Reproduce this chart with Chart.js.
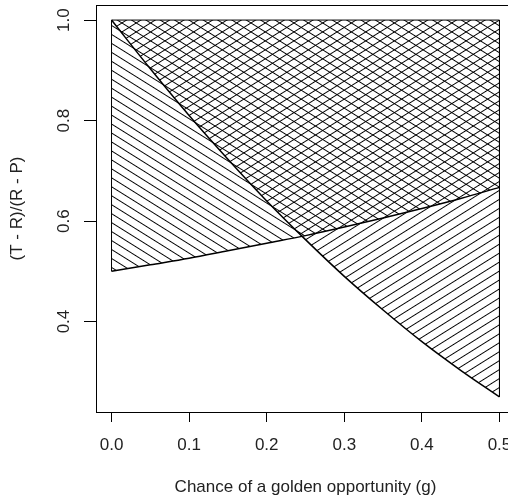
<!DOCTYPE html>
<html>
<head>
<meta charset="utf-8">
<script src="https://cdn.jsdelivr.net/npm/chart.js@4.4.1/dist/chart.umd.min.js"></script>
<style>
  body { margin: 0; overflow: hidden; background: #fff; }
</style>
</head>
<body>
<canvas id="grafico" width="530" height="501"></canvas>
<script>
// chance g no eixo x
const gValues = [0, 0.05, 0.1, 0.15, 0.2, 0.25, 0.3, 0.35, 0.4, 0.45, 0.5];
// limite que sobe (reta de 0.5 ate 0.667)
const lowerBound = [0.5, 0.513, 0.526, 0.541, 0.556, 0.571, 0.588, 0.606, 0.625, 0.645, 0.667];
// limite que desce (curva de 1 ate 0.25)
const upperBound = [1.0, 0.903, 0.81, 0.723, 0.64, 0.563, 0.49, 0.423, 0.36, 0.303, 0.25];
const topValue = 1.0;
const xTicks = [0, 0.1, 0.2, 0.3, 0.4, 0.5];
const yTicks = [0.4, 0.6, 0.8, 1.0];

const fonte = 'Liberation Sans, Arial, sans-serif';
const tamanho = 17;
const corTexto = '#222';

// cria o padrao de linhas diagonais (hachura) girando linhas horizontais
function hachura(angulo, espaco) {
    const tile = document.createElement('canvas');
    tile.width = 16;
    tile.height = 8;
    const c = tile.getContext('2d');
    c.fillStyle = '#000';
    c.fillRect(0, 0, 16, 1);
    const pattern = c.createPattern(tile, 'repeat');
    pattern.setTransform(new DOMMatrix().rotateSelf(angulo).scaleSelf(1, espaco / 8));
    return pattern;
}

const pontos = (ys) => gValues.map((g, i) => ({ x: g, y: ys[i] }));

// contorno dos poligonos: lado esquerdo, topo e lado direito
const contorno = [
    { x: gValues[0], y: lowerBound[0] },
    { x: gValues[0], y: topValue },
    { x: gValues[gValues.length - 1], y: topValue },
    { x: gValues[gValues.length - 1], y: upperBound[upperBound.length - 1] }
];

// desenha a moldura e os rotulos verticais do eixo y
const moldura = {
    id: 'moldura',
    afterDraw(chart) {
        const { ctx, chartArea, scales } = chart;
        ctx.save();
        ctx.strokeStyle = '#000';
        ctx.lineWidth = 1;
        ctx.strokeRect(Math.round(chartArea.left) + 0.5, Math.round(chartArea.top) + 0.5,
            Math.round(chartArea.right - chartArea.left), Math.round(chartArea.bottom - chartArea.top));
        ctx.fillStyle = corTexto;
        ctx.font = tamanho + 'px ' + fonte;
        ctx.textAlign = 'center';
        ctx.textBaseline = 'middle';
        yTicks.forEach(v => {
            const y = scales.y.getPixelForValue(v);
            ctx.save();
            ctx.translate(64, y);
            ctx.rotate(-Math.PI / 2);
            ctx.fillText(v.toFixed(1), 0, 0);
            ctx.restore();
        });
        ctx.restore();
    }
};

const ctx = document.getElementById('grafico').getContext('2d');
new Chart(ctx, {
    type: 'line',
    data: {
        datasets: [
            {
                data: pontos(lowerBound),
                borderColor: '#000',
                borderWidth: 1.5,
                backgroundColor: hachura(32, 7.6),
                fill: { value: topValue },
                pointRadius: 0,
                cubicInterpolationMode: 'monotone'
            },
            {
                data: pontos(upperBound),
                borderColor: '#000',
                borderWidth: 1.5,
                backgroundColor: hachura(-32, 7.6),
                fill: { value: topValue },
                pointRadius: 0,
                cubicInterpolationMode: 'monotone'
            },
            {
                data: contorno,
                borderColor: '#000',
                borderWidth: 1,
                fill: false,
                pointRadius: 0,
                tension: 0
            }
        ]
    },
    options: {
        responsive: false,
        animation: false,
        devicePixelRatio: 1,
        layout: { padding: { top: 5, right: 15, bottom: 0, left: 0 } },
        plugins: { legend: { display: false }, tooltip: { enabled: false } },
        scales: {
            x: {
                type: 'linear',
                min: -0.02,
                max: 0.52,
                afterBuildTicks: (s) => { s.ticks = xTicks.map(v => ({ value: v })); },
                afterFit: (s) => { s.height = 89; },
                grid: { drawOnChartArea: false, drawTicks: true, tickLength: 10, color: '#000' },
                border: { display: false },
                ticks: {
                    color: corTexto,
                    padding: 13,
                    maxRotation: 0,
                    font: { family: fonte, size: tamanho },
                    callback: (v) => Number(v).toFixed(1)
                },
                title: {
                    display: true,
                    text: 'Chance of a golden opportunity (g)',
                    color: corTexto,
                    font: { family: fonte, size: tamanho },
                    padding: { top: 0, bottom: 3 }
                }
            },
            y: {
                type: 'linear',
                min: 0.22,
                max: 1.03,
                afterBuildTicks: (s) => { s.ticks = yTicks.map(v => ({ value: v })); },
                afterFit: (s) => { s.width = 96; },
                grid: { drawOnChartArea: false, drawTicks: true, tickLength: 12, color: '#000' },
                border: { display: false },
                ticks: { display: false },
                title: {
                    display: true,
                    text: '(T - R)/(R - P)',
                    color: corTexto,
                    font: { family: fonte, size: tamanho },
                    padding: { top: 7, bottom: 0 }
                }
            }
        }
    },
    plugins: [moldura]
});
</script>
</body>
</html>
